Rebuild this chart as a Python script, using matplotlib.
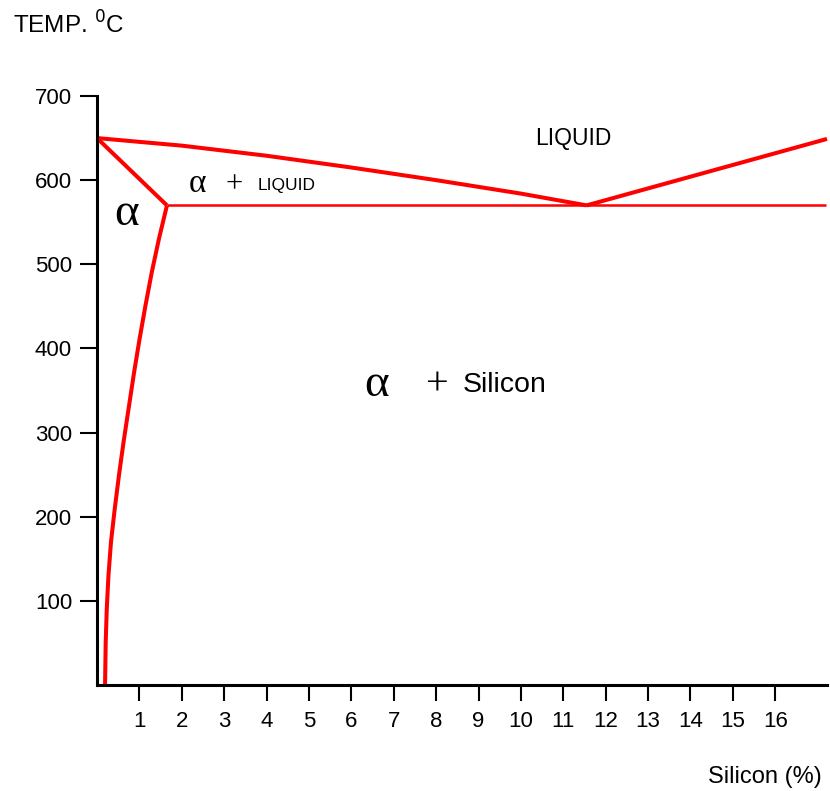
import matplotlib
matplotlib.use("Agg")
import matplotlib.pyplot as plt

# Al-Si phase diagram
liq_left_si = [0.0, 2.0, 4.0, 6.0, 8.0, 10.0, 11.55]
liq_left_t = [650, 641, 629, 615, 600, 584, 570]
liq_right_si = [11.55, 17.22]
liq_right_t = [570, 649]
solidus_si = [0.0, 1.65]
solidus_t = [650, 570]
eutectic_si = [1.65, 17.2]
eutectic_t = [570, 570]
solvus_si = [1.65, 1.46, 1.29, 1.14, 1.00, 0.87, 0.75, 0.63, 0.52, 0.42,
             0.33, 0.27, 0.23, 0.205, 0.19]
solvus_t = [570, 530, 490, 450, 410, 370, 330, 290, 250, 210,
            170, 130, 90, 50, 0]

x_ticks = list(range(1, 17))
y_ticks = [100, 200, 300, 400, 500, 600, 700]

RED = "#ff0000"
SANS = "Liberation Sans"
SERIF = "Liberation Serif"

fig = plt.figure(figsize=(8.30, 7.91), dpi=100)
ax = fig.add_axes([97 / 830, 106 / 791, 730 / 830, 589 / 791])

for xs, ys, w in [(liq_left_si, liq_left_t, 2.9),
                  (liq_right_si, liq_right_t, 2.9),
                  (solidus_si, solidus_t, 2.9),
                  (eutectic_si, eutectic_t, 1.8),
                  (solvus_si, solvus_t, 2.9)]:
    ax.plot(xs, ys, color=RED, lw=w, clip_on=False,
            solid_joinstyle="round", solid_capstyle="butt")

ax.set_xlim(0, 17.22)
ax.set_ylim(0, 700)
ax.set_xticks(x_ticks)
ax.set_xticklabels([str(v) for v in x_ticks])
ax.set_yticks(y_ticks)
ax.set_yticklabels([str(v) for v in y_ticks])

for s in ("top", "right"):
    ax.spines[s].set_visible(False)
for s in ("left", "bottom"):
    ax.spines[s].set_linewidth(2.2)
    ax.spines[s].set_zorder(5)
ax.tick_params(axis="x", length=11.5, width=1.5, pad=7, labelsize=16)
ax.tick_params(axis="y", length=12, width=1.5, pad=6, labelsize=16)
for lab in ax.get_xticklabels() + ax.get_yticklabels():
    lab.set_family(SANS)

# region labels
ax.text(11.23, 649, "LIQUID", ha="center", va="center", fontsize=16.5, family=SANS)
ax.text(0.71, 560, "α", ha="center", va="center", fontsize=34, family=SERIF)
ax.text(2.38, 596, "α", ha="center", va="center", fontsize=24, family=SERIF)
ax.text(3.23, 595, "+", ha="center", va="center", fontsize=22, family=SERIF)
ax.text(4.48, 594, "LIQUID", ha="center", va="center", fontsize=12.5, family=SANS)
ax.text(6.6, 357, "α", ha="center", va="center", fontsize=34, family=SERIF)
ax.text(8.02, 356, "+", ha="center", va="center", fontsize=29, family=SERIF)
ax.text(8.63, 356, "Silicon", ha="left", va="center", fontsize=20.5, family=SANS)

fig.text(13 / 830, 1 - 25 / 791, r"TEMP. $^{0}$C", ha="left", va="center",
         fontsize=17.5, family=SANS)
fig.text(822 / 830, 1 - 777 / 791, "Silicon (%)", ha="right", va="center",
         fontsize=17, family=SANS)

fig.savefig("out.png", dpi=100)
